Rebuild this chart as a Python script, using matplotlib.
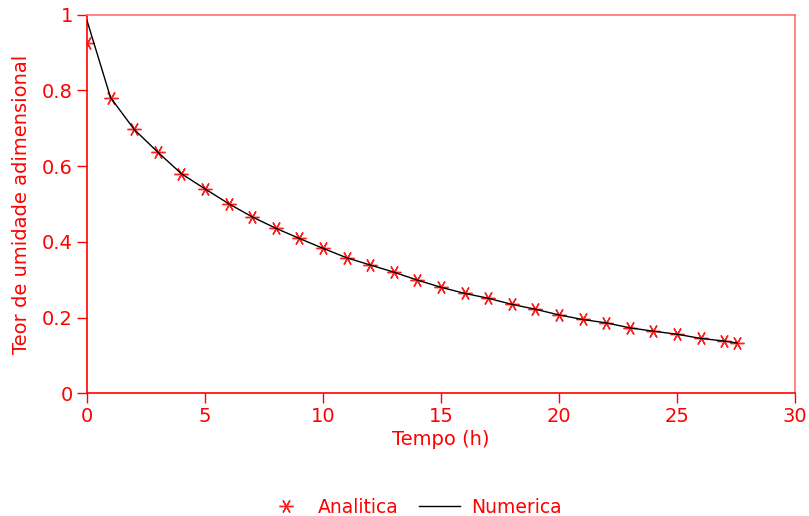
import matplotlib
matplotlib.use("Agg")
import matplotlib.pyplot as plt

# Data
t_analitica = [0, 1, 2, 3, 4, 5, 6, 7, 8, 9, 10, 11, 12, 13, 14, 15, 16, 17, 18, 19,
               20, 21, 22, 23, 24, 25, 26, 27, 27.55]
y_analitica = [0.925, 0.781, 0.697, 0.637, 0.580, 0.540, 0.501, 0.466, 0.436, 0.409,
               0.383, 0.358, 0.339, 0.320, 0.299, 0.280, 0.264, 0.251, 0.235, 0.222,
               0.207, 0.195, 0.186, 0.173, 0.164, 0.156, 0.145, 0.138, 0.133]
t_numerica = t_analitica
y_numerica = [0.985] + y_analitica[1:]

xticks = [0, 5, 10, 15, 20, 25, 30]
yticks = [0, 0.2, 0.4, 0.6, 0.8, 1]
ytick_labels = ["0", "0.2", "0.4", "0.6", "0.8", "1"]

RED = "#ff0000"
LIGHT = "#ff7070"

plt.rcParams['font.family'] = ['DejaVu Sans']
fig = plt.figure(figsize=(8.09, 5.16), dpi=100)
ax = fig.add_axes([0.1075, 0.2378, 0.8752, 0.7337])

ax.plot(t_analitica, y_analitica, linestyle='none', marker=(6, 2, 90), markersize=10,
        markeredgecolor="#ff2020", markeredgewidth=1.0, color=RED, label='Analitica', zorder=2)
ax.plot(t_numerica, y_numerica, color='black', linewidth=1.0, label='Numerica', zorder=3)

ax.set_xlim(0, 30)
ax.set_ylim(0, 1)
ax.set_xticks(xticks)
ax.set_xticklabels([str(v) for v in xticks])
ax.set_yticks(yticks)
ax.set_yticklabels(ytick_labels)

for side in ['left', 'bottom']:
    ax.spines[side].set_color(RED)
    ax.spines[side].set_linewidth(1.2)
for side in ['top', 'right']:
    ax.spines[side].set_color(LIGHT)
    ax.spines[side].set_linewidth(1.2)

ax.tick_params(axis='both', colors=RED, direction='out', length=7, width=1.0,
               labelsize=14, pad=3)

ax.set_xlabel('Tempo (h)', color=RED, fontsize=14, labelpad=3)
ax.set_ylabel('Teor de umidade adimensional', color=RED, fontsize=14, labelpad=8)

leg = fig.legend(loc='center', bbox_to_anchor=(0.511, 0.017), ncol=2, frameon=False,
                 fontsize=13.5, handlelength=2.2, columnspacing=1.1, handletextpad=0.6)
for txt in leg.get_texts():
    txt.set_color(RED)

fig.savefig('out.png', dpi=100)
